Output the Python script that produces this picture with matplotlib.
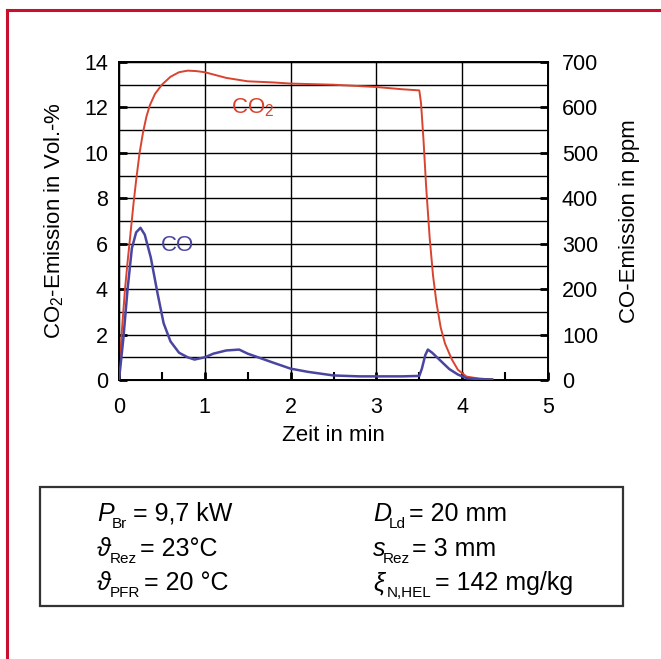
import matplotlib
matplotlib.use("Agg")
import matplotlib.pyplot as plt
import matplotlib.patches as mpatches
from matplotlib.lines import Line2D
from matplotlib.ticker import MultipleLocator

plt.rcParams['font.family'] = ['Liberation Sans', 'DejaVu Sans']
plt.rcParams['mathtext.fontset'] = 'custom'
plt.rcParams['mathtext.rm'] = 'Liberation Sans'
plt.rcParams['mathtext.it'] = 'Liberation Sans:italic'

W, H = 661, 659

# CO2 in Vol.-% over time in min
co2_t = [0, 0.03, 0.07, 0.1, 0.13, 0.17, 0.2, 0.24, 0.28, 0.32, 0.36, 0.42, 0.5, 0.6, 0.7,
         0.8, 0.9, 1.0, 1.1, 1.25, 1.5, 1.8, 2.0, 2.5, 3.0, 3.3, 3.5, 3.52, 3.55, 3.58,
         3.62, 3.66, 3.7, 3.75, 3.8, 3.88, 3.95, 4.05, 4.2, 4.35]
co2_v = [0, 2.0, 4.0, 5.2, 6.3, 7.8, 8.8, 10.0, 10.9, 11.6, 12.1, 12.6, 13.0, 13.35, 13.55,
         13.62, 13.6, 13.55, 13.45, 13.3, 13.15, 13.1, 13.05, 13.0, 12.9, 12.8, 12.75, 12.2, 10.5, 8.5,
         6.3, 4.6, 3.4, 2.3, 1.6, 0.9, 0.45, 0.15, 0.06, 0.03]

# CO in ppm over time in min
co_t = [0, 0.05, 0.1, 0.15, 0.2, 0.25, 0.3, 0.37, 0.45, 0.52, 0.6, 0.7, 0.8, 0.88, 1.0,
        1.1, 1.25, 1.4, 1.5, 1.65, 1.8, 2.0, 2.2, 2.5, 2.8, 3.0, 3.3, 3.5, 3.53, 3.57,
        3.6, 3.65, 3.75, 3.85, 3.95, 4.05, 4.2, 4.35]
co_v = [0, 90, 200, 290, 325, 335, 320, 270, 190, 125, 85, 60, 50, 45, 50,
        58, 65, 67, 58, 48, 38, 25, 18, 10, 8, 8, 8, 9, 25, 55,
        67, 60, 42, 24, 12, 4, 2, 1]

# parameters in the box: (symbol, subscript, rest)
params_left = [('P', 'Br', '= 9,7 kW'),
               ('\u03d1', 'Rez', '= 23°C'),
               ('\u03d1', 'PFR', '= 20 °C')]
params_right = [('D', 'Ld', '= 20 mm'),
                ('s', 'Rez', '= 3 mm'),
                ('\u03be', 'N,HEL', '= 142 mg/kg')]

fig = plt.figure(figsize=(W / 100, H / 100), dpi=100)

# red outer frame (top and left edge)
fig.add_artist(Line2D([7 / W, 1.0], [1 - 10 / H, 1 - 10 / H], color='#c8102e', lw=2.2))
fig.add_artist(Line2D([7 / W, 7 / W], [0.0, 1 - 10 / H], color='#c8102e', lw=2.2))

ax = fig.add_axes([119 / W, 1 - 380 / H, 429 / W, 318 / H])
ax.plot(co2_t, co2_v, color='#d9432f', lw=1.4, zorder=3)
ax.set_xlim(0, 5)
ax.set_ylim(0, 14)
ax.set_xticks(range(0, 6))
ax.xaxis.set_minor_locator(MultipleLocator(0.5))
ax.set_yticks(range(0, 15, 2))
ax.yaxis.set_minor_locator(MultipleLocator(1))
ax.grid(True, which='major', axis='x', color='black', lw=1.0)
ax.grid(True, which='both', axis='y', color='black', lw=1.0)
ax.set_axisbelow(True)
ax.tick_params(axis='both', which='major', direction='in', length=6, width=2, labelsize=15.5)
ax.tick_params(axis='y', which='major', pad=8)
ax.tick_params(axis='x', which='major', pad=12)
ax.tick_params(axis='y', which='minor', length=0)
ax.tick_params(axis='x', which='minor', direction='in', length=6, width=1.5)
for s in ax.spines.values():
    s.set_linewidth(1.4)
ax.set_xlabel('Zeit in min', fontsize=16, labelpad=5)
ax.set_ylabel('CO$_2$-Emission in Vol.-%', fontsize=16, labelpad=13)
ax.text(1.3, 12.0, 'CO$_2$', color='#d9432f', fontsize=16, va='center')

ax2 = ax.twinx()
ax2.plot(co_t, co_v, color='#4a45a0', lw=1.8, zorder=3)
ax2.set_ylim(0, 700)
ax2.set_yticks(range(0, 701, 100))
ax2.tick_params(axis='y', direction='in', length=6, width=2, labelsize=15.5, pad=10)
ax2.set_ylabel('CO-Emission in ppm', fontsize=16, labelpad=15)
ax.text(0.49, 5.9, 'CO', color='#4a45a0', fontsize=16, va='center')

# parameter box below the chart
fig.add_artist(mpatches.Rectangle((40 / W, 1 - 606 / H), 583 / W, 119 / H,
                                  transform=fig.transFigure, fill=False,
                                  edgecolor='#333333', lw=1.6))


def param_row(x_sym, x_sub, x_rest, base, sym, sub, rest):
    fig.text(x_sym / W, 1 - base / H, sym, fontsize=18, style='italic', va='baseline')
    fig.text(x_sub / W, 1 - (base + 7) / H, sub, fontsize=11, va='baseline')
    fig.text(x_rest / W, 1 - base / H, rest, fontsize=18, va='baseline')


baselines = [521, 556, 590]
left_sub = [112, 110, 110]
left_rest = [133, 140, 144]
right_sub = [389, 383, 387]
right_rest = [409, 412, 435]
for i, (sym, sub, rest) in enumerate(params_left):
    param_row(97, left_sub[i], left_rest[i], baselines[i], sym, sub, rest)
for i, (sym, sub, rest) in enumerate(params_right):
    param_row(373, right_sub[i], right_rest[i], baselines[i], sym, sub, rest)

fig.savefig('out.png', dpi=100)
